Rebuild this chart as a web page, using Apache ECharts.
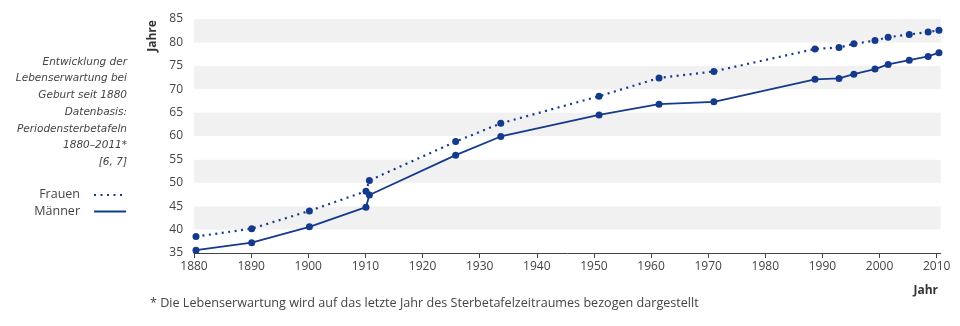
<!DOCTYPE html>
<html>
<head>
<meta charset="utf-8">
<script src="https://cdn.jsdelivr.net/npm/echarts@6/dist/echarts.min.js"></script>
<style>
html,body{margin:0;padding:0;background:#fff;}
#c{width:960px;height:326px;}
</style>
</head>
<body>
<div id="c"></div>
<script>
const years = [1880.35, 1890.1, 1900.2, 1910.1, 1910.7, 1925.8, 1933.7, 1950.9, 1961.4, 1971.0, 1988.7, 1992.9, 1995.5, 1999.2, 2001.5, 2005.2, 2008.5, 2010.4];
const frauen = [38.5, 40.2, 44.0, 48.2, 50.5, 58.8, 62.7, 68.5, 72.4, 73.8, 78.6, 78.9, 79.7, 80.4, 81.1, 81.7, 82.2, 82.6];
const maenner = [35.6, 37.2, 40.6, 44.8, 47.4, 55.9, 59.9, 64.5, 66.8, 67.3, 72.1, 72.3, 73.2, 74.3, 75.3, 76.2, 77.0, 77.8];
const xTicks = [1880, 1890, 1900, 1910, 1920, 1930, 1940, 1950, 1960, 1970, 1980, 1990, 2000, 2010];
const seriesNames = ['Frauen', 'Männer'];
const noteLines = ['Entwicklung der', 'Lebenserwartung bei', 'Geburt seit 1880', 'Datenbasis:', 'Periodensterbetafeln', '1880–2011*', '[6, 7]'];
const yAxisTitle = 'Jahre';
const xAxisTitle = 'Jahr';
const footnote = '* Die Lebenserwartung wird auf das letzte Jahr des Sterbetafelzeitraumes bezogen dargestellt';

const navy = '#143a8c';
const font = "'Open Sans', 'Noto Sans', sans-serif";
const zip = (xs, ys) => xs.map((x, i) => [x, ys[i]]);

const chart = echarts.init(document.getElementById('c'), null, {renderer: 'canvas'});

const graphics = [];
noteLines.forEach((t, i) => {
  graphics.push({type: 'text', x: 127, y: 62 + i * 16.7,
    style: {text: t, fill: '#444', font: "italic 10.5px 'DejaVu Sans', sans-serif", textAlign: 'right', textVerticalAlign: 'middle'}});
});
// legend
graphics.push({type: 'text', x: 80, y: 194, style: {text: seriesNames[0], fill: '#444', font: '12.5px ' + font, textAlign: 'right', textVerticalAlign: 'middle'}});
graphics.push({type: 'text', x: 80, y: 211, style: {text: seriesNames[1], fill: '#444', font: '12.5px ' + font, textAlign: 'right', textVerticalAlign: 'middle'}});
graphics.push({type: 'line', shape: {x1: 94, y1: 195, x2: 126, y2: 195}, style: {stroke: navy, lineWidth: 2.2, lineDash: [2, 4.5]}});
graphics.push({type: 'line', shape: {x1: 94, y1: 211.5, x2: 126, y2: 211.5}, style: {stroke: navy, lineWidth: 2}});
// axis titles
graphics.push({type: 'text', x: 153, y: 36, rotation: Math.PI / 2,
  style: {text: yAxisTitle, fill: '#333', font: 'bold 12px ' + font, textAlign: 'center', textVerticalAlign: 'middle'}});
graphics.push({type: 'text', x: 938, y: 291, style: {text: xAxisTitle, fill: '#333', font: 'bold 12px ' + font, textAlign: 'right', textVerticalAlign: 'middle'}});
graphics.push({type: 'text', x: 150, y: 303, style: {text: footnote, fill: '#444', font: '12.6px ' + font, textAlign: 'left', textVerticalAlign: 'middle'}});

chart.setOption({
  animation: false,
  backgroundColor: '#fff',
  grid: {left: 194, right: 19.3, top: 19, bottom: 73},
  xAxis: {
    type: 'value', min: 1880, max: 2010.7, interval: 10,
    axisLine: {show: true, lineStyle: {color: '#444', width: 1}},
    axisTick: {show: true, length: 5, lineStyle: {color: '#444'}, customValues: xTicks},
    axisLabel: {color: '#444', fontSize: 12, fontFamily: font, margin: 8, customValues: xTicks, formatter: v => String(Math.round(v))},
    splitLine: {show: false}
  },
  yAxis: {
    type: 'value', min: 35, max: 85, interval: 5,
    axisLine: {show: false}, axisTick: {show: false},
    axisLabel: {color: '#444', fontSize: 12, fontFamily: font, margin: 11},
    splitLine: {show: false},
    splitArea: {show: true, areaStyle: {color: ['#ffffff', '#f1f1f1']}}
  },
  series: [
    {name: seriesNames[0], type: 'line', data: zip(years, frauen), symbol: 'circle', symbolSize: 7,
     itemStyle: {color: navy}, lineStyle: {color: navy, width: 2.2, type: [2, 4.5]}, z: 3},
    {name: seriesNames[1], type: 'line', data: zip(years, maenner), symbol: 'circle', symbolSize: 7,
     itemStyle: {color: navy}, lineStyle: {color: navy, width: 1.8}, z: 3}
  ],
  graphic: graphics
});
</script>
</body>
</html>
